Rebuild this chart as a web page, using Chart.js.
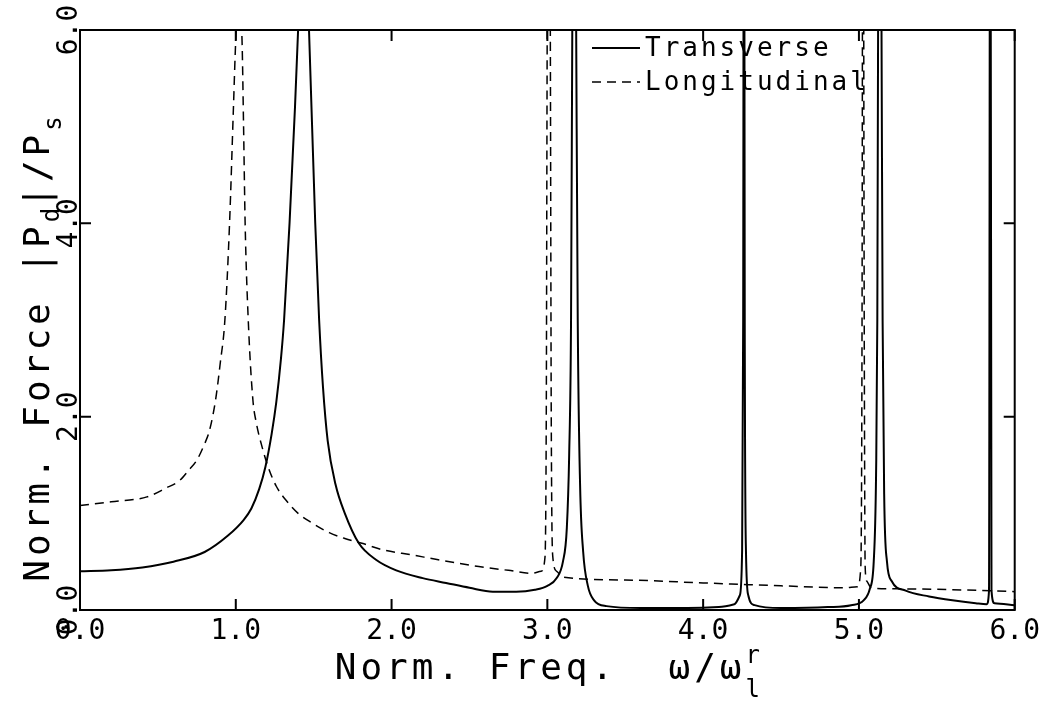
<!DOCTYPE html>
<html><head><meta charset="utf-8">
<script src="https://cdn.jsdelivr.net/npm/chart.js@4/dist/chart.umd.min.js"></script>
<style>html,body{margin:0;padding:0;background:#fff;}canvas{display:block;}</style>
</head><body>
<canvas id="c" width="1045" height="702"></canvas>
<script>
// ---- data ----
const xTickValues = [0, 1, 2, 3, 4, 5, 6];
const xTickLabels = ['0.0', '1.0', '2.0', '3.0', '4.0', '5.0', '6.0'];
const yTickValues = [0, 2, 4, 6];
const yTickLabels = ['0.0', '2.0', '4.0', '6.0'];
const seriesNames = ['Transverse', 'Longitudinal'];

const transverseFreq = [0.00,0.20,0.40,0.60,0.80,0.95,1.05,1.10,1.15,1.19,1.23,1.26,1.29,1.31,1.345,1.38,1.40,1.435,1.47,1.51,1.535,1.56,1.59,1.64,1.70,1.79,1.90,2.03,2.20,2.35,2.50,2.65,2.80,2.92,3.00,3.06,3.10,3.125,3.14,3.152,3.16,3.172,3.185,3.195,3.21,3.23,3.26,3.30,3.38,3.60,3.90,4.10,4.20,4.235,4.25,4.257,4.262,4.267,4.275,4.29,4.33,4.50,4.80,4.95,5.03,5.07,5.095,5.11,5.118,5.123,5.133,5.145,5.152,5.162,5.18,5.21,5.30,5.45,5.60,5.75,5.82,5.835,5.843,5.851,5.87,6.00];
const transverseForce = [0.40,0.41,0.44,0.50,0.60,0.77,0.93,1.05,1.25,1.48,1.82,2.15,2.60,3.00,4.00,5.20,6.00,7.50,6.00,4.00,3.00,2.30,1.75,1.30,1.00,0.69,0.52,0.41,0.33,0.28,0.23,0.19,0.19,0.21,0.25,0.33,0.50,0.85,1.60,3.00,6.00,10.0,6.00,3.00,1.30,0.60,0.25,0.10,0.04,0.02,0.02,0.03,0.06,0.15,0.60,3.00,10.0,3.00,0.60,0.15,0.05,0.02,0.03,0.05,0.10,0.22,0.50,1.40,3.00,6.00,10.0,6.00,3.00,1.20,0.50,0.30,0.20,0.14,0.10,0.07,0.06,0.20,10.0,0.20,0.07,0.05];

const longitudinalFreq = [0.00,0.20,0.43,0.55,0.64,0.70,0.75,0.80,0.83,0.87,0.90,0.93,0.96,0.985,1.00,1.02,1.04,1.05,1.06,1.08,1.11,1.13,1.17,1.21,1.26,1.32,1.40,1.49,1.60,1.70,1.81,1.95,2.13,2.30,2.56,2.75,2.90,2.96,2.985,2.993,2.999,3.009,3.019,3.025,3.035,3.06,3.10,3.50,4.00,4.50,4.90,4.99,5.012,5.02,5.026,5.034,5.04,5.05,5.08,5.20,5.60,6.00];
const longitudinalForce = [1.08,1.12,1.17,1.26,1.34,1.45,1.55,1.72,1.85,2.17,2.55,3.00,4.00,5.20,5.90,6.30,5.90,5.00,4.00,3.00,2.17,1.95,1.68,1.47,1.28,1.14,1.00,0.90,0.80,0.74,0.69,0.62,0.57,0.52,0.45,0.41,0.38,0.40,0.55,2.00,6.00,10.0,6.00,2.00,0.55,0.40,0.34,0.31,0.28,0.25,0.23,0.24,0.45,3.00,10.0,3.00,0.45,0.30,0.23,0.22,0.21,0.19];

const FONT = '"DejaVu Sans Mono", monospace';
const INK = '#000';

const toPoints = (xs, ys) => xs.map((v, i) => ({x: v, y: ys[i]}));

const plotter = {
  id: 'plotter',
  afterDatasetsDraw(chart) {
    const {ctx, chartArea: a, scales: {x, y}} = chart;
    ctx.save();
    ctx.strokeStyle = INK;
    ctx.fillStyle = INK;
    ctx.lineWidth = 2;
    ctx.setLineDash([]);
    ctx.strokeRect(a.left, a.top, a.right - a.left, a.bottom - a.top);
    const TL = 11;
    ctx.beginPath();
    x.ticks.forEach(t => {
      const px = x.getPixelForValue(t.value);
      ctx.moveTo(px, a.bottom); ctx.lineTo(px, a.bottom - TL);
      ctx.moveTo(px, a.top); ctx.lineTo(px, a.top + TL);
    });
    y.ticks.forEach(t => {
      const py = y.getPixelForValue(t.value);
      ctx.moveTo(a.left, py); ctx.lineTo(a.left + TL, py);
      ctx.moveTo(a.right, py); ctx.lineTo(a.right - TL, py);
    });
    ctx.stroke();

    // legend (inside plot, upper right)
    ctx.font = '26px ' + FONT;
    ctx.letterSpacing = '3px';
    ctx.textBaseline = 'middle';
    ctx.textAlign = 'left';
    chart.data.datasets.forEach((ds, i) => {
      const ly = a.top + 18 + i * 34;
      const lx = a.left + 512;
      ctx.beginPath();
      ctx.lineWidth = ds.borderWidth;
      ctx.setLineDash(ds.borderDash || []);
      ctx.moveTo(lx, ly); ctx.lineTo(lx + 48, ly);
      ctx.stroke();
      ctx.setLineDash([]);
      ctx.fillText(ds.label, lx + 53, ly + 1);
    });

    // axis titles with sub/superscripts
    const runs = (parts) => {
      let w = 0;
      parts.forEach(p => { ctx.font = p.size + 'px ' + FONT; ctx.letterSpacing = p.ls + 'px'; p.w = ctx.measureText(p.t).width; if (!p.overlap) w += p.w; });
      return w;
    };
    const drawRuns = (parts, x0) => {
      let cx = x0, prevX = x0;
      parts.forEach(p => {
        ctx.font = p.size + 'px ' + FONT; ctx.letterSpacing = p.ls + 'px';
        const px = p.overlap ? prevX : cx;
        ctx.fillText(p.t, px, p.dy);
        if (!p.overlap) { prevX = cx; cx += p.w; }
      });
    };
    ctx.textBaseline = 'alphabetic';
    const xParts = [
      {t: 'Norm. Freq.  \u03c9/\u03c9', size: 36, ls: 4, dy: 0},
      {t: 'r', size: 24, ls: 0, dy: -16},
      {t: 'l', size: 24, ls: 0, dy: 18, overlap: true}
    ];
    const xw = runs(xParts);
    ctx.save();
    ctx.translate((a.left + a.right) / 2, 679);
    drawRuns(xParts, -xw / 2);
    ctx.restore();

    const yParts = [
      {t: 'Norm. Force |P', size: 36, ls: 4, dy: 0},
      {t: 'd', size: 24, ls: 0, dy: 10},
      {t: '|/P', size: 36, ls: 4, dy: 0},
      {t: 's', size: 24, ls: 0, dy: 12}
    ];
    const yw = runs(yParts);
    ctx.save();
    ctx.translate(49, 349);
    ctx.rotate(-Math.PI / 2);
    drawRuns(yParts, -yw / 2);
    ctx.restore();
    ctx.restore();
  }
};

new Chart(document.getElementById('c'), {
  type: 'line',
  data: {
    datasets: [
      {label: seriesNames[0], data: toPoints(transverseFreq, transverseForce), borderColor: INK, borderWidth: 2, pointRadius: 0, cubicInterpolationMode: 'monotone', fill: false, clip: 0},
      {label: seriesNames[1], data: toPoints(longitudinalFreq, longitudinalForce), borderColor: INK, borderWidth: 1.5, borderDash: [9, 6], pointRadius: 0, cubicInterpolationMode: 'monotone', fill: false, clip: 0}
    ]
  },
  options: {
    responsive: false,
    animation: false,
    devicePixelRatio: 1,
    layout: {padding: {left: 0, right: 28, top: 30, bottom: 0}},
    plugins: {legend: {display: false}, tooltip: {enabled: false}},
    scales: {
      x: {
        type: 'linear', min: 0, max: 6,
        afterBuildTicks: s => { s.ticks = xTickValues.map(v => ({value: v})); },
        afterFit: s => { s.height = 92; },
        grid: {display: false, drawTicks: false},
        border: {display: false},
        ticks: {
          autoSkip: false, maxRotation: 0, minRotation: 0, padding: 5, color: INK,
          font: {family: FONT, size: 28},
          callback: v => xTickLabels[xTickValues.indexOf(v)] ?? ''
        }
      },
      y: {
        type: 'linear', min: 0, max: 6,
        afterBuildTicks: s => { s.ticks = yTickValues.map(v => ({value: v})); },
        afterFit: s => { s.width = 80; },
        grid: {display: false, drawTicks: false},
        border: {display: false},
        ticks: {
          autoSkip: false, minRotation: 90, maxRotation: 90, crossAlign: 'center', padding: -15, color: INK,
          font: {family: FONT, size: 28},
          callback: v => yTickLabels[yTickValues.indexOf(v)] ?? ''
        }
      }
    }
  },
  plugins: [plotter]
});
</script>
</body></html>
